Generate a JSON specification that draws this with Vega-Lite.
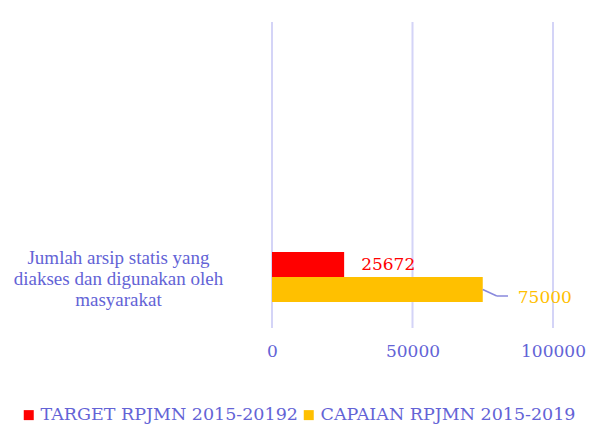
{
  "$schema": "https://vega.github.io/schema/vega-lite/v6.json",
  "width": 281,
  "height": 306,
  "autosize": "none",
  "padding": {"left": 272, "top": 22, "right": 48, "bottom": 97},
  "background": "white",
  "config": {"font": "Liberation Serif", "view": {"stroke": null}},
  "data": {
    "values": [
      {"indikator": "Jumlah arsip statis yang diakses dan digunakan oleh masyarakat", "series": "TARGET RPJMN 2015-20192", "value": 25672},
      {"indikator": "Jumlah arsip statis yang diakses dan digunakan oleh masyarakat", "series": "CAPAIAN RPJMN 2015-2019", "value": 75000}
    ]
  },
  "layer": [
    {
      "data": {"values": [{"tick": 0}, {"tick": 50000}, {"tick": 100000}]},
      "mark": {"type": "rule", "color": "#D4D4F7", "strokeWidth": 2},
      "encoding": {
        "x": {"field": "tick", "type": "quantitative"}
      }
    },
    {
      "mark": {"type": "bar"},
      "encoding": {
        "y": {
          "field": "indikator",
          "type": "nominal",
          "title": null,
          "scale": {"range": [230, 280], "paddingInner": 0, "paddingOuter": 0},
          "axis": {
            "domain": false,
            "ticks": false,
            "grid": false,
            "labelAlign": "center",
            "labelBaseline": "middle",
            "labelPadding": 154,
            "labelOffset": -19,
            "labelFontSize": 19,
            "labelColor": "#6363D6",
            "labelLineHeight": 21,
            "labelLimit": 0,
            "labelExpr": "['Jumlah arsip statis yang', 'diakses dan digunakan oleh', 'masyarakat']"
          }
        },
        "yOffset": {
          "field": "series",
          "type": "nominal",
          "scale": {"domain": ["TARGET RPJMN 2015-20192", "CAPAIAN RPJMN 2015-2019"], "paddingInner": 0, "paddingOuter": 0}
        },
        "x": {
          "field": "value",
          "type": "quantitative",
          "title": null,
          "scale": {"domain": [0, 100000], "nice": false},
          "axis": {
            "values": [0, 50000, 100000],
            "format": "d",
            "grid": false,
            "domain": false,
            "ticks": false,
            "labelFont": "DejaVu Serif",
            "labelFontSize": 17,
            "labelColor": "#6363D6",
            "labelPadding": 15,
            "labelFlush": false
          }
        },
        "color": {
          "field": "series",
          "type": "nominal",
          "scale": {"domain": ["TARGET RPJMN 2015-20192", "CAPAIAN RPJMN 2015-2019"], "range": ["#FF0000", "#FFC000"]},
          "legend": {
            "orient": "none",
            "legendX": -252,
            "legendY": 384,
            "direction": "horizontal",
            "title": null,
            "symbolType": "square",
            "symbolSize": 100,
            "symbolStrokeWidth": 0,
            "labelFont": "DejaVu Serif",
            "labelFontSize": 17.5,
            "labelColor": "#6363D6",
            "labelOffset": 3,
            "columnPadding": 2,
            "labelLimit": 0
          }
        }
      }
    },
    {
      "transform": [{"filter": "datum.series === 'CAPAIAN RPJMN 2015-2019'"}],
      "mark": {"type": "rule", "color": "#8888DD", "strokeWidth": 1.5, "y2Offset": 19},
      "encoding": {
        "x": {"field": "value", "type": "quantitative"},
        "x2": {"datum": 80000},
        "y": {"field": "indikator", "type": "nominal"},
        "yOffset": {"field": "series", "type": "nominal"},
        "y2": {"datum": "Jumlah arsip statis yang diakses dan digunakan oleh masyarakat"}
      }
    },
    {
      "transform": [{"filter": "datum.series === 'CAPAIAN RPJMN 2015-2019'"}],
      "mark": {"type": "rule", "color": "#8888DD", "strokeWidth": 1.5, "yOffset": 19},
      "encoding": {
        "x": {"datum": 80000},
        "x2": {"datum": 84000},
        "y": {"datum": "Jumlah arsip statis yang diakses dan digunakan oleh masyarakat"}
      }
    },
    {
      "transform": [{"filter": "datum.series === 'TARGET RPJMN 2015-20192'"}],
      "mark": {"type": "text", "align": "left", "baseline": "middle", "dx": 17, "fontSize": 17, "font": "DejaVu Serif", "color": "#FF0000"},
      "encoding": {
        "x": {"field": "value", "type": "quantitative"},
        "y": {"field": "indikator", "type": "nominal"},
        "yOffset": {"field": "series", "type": "nominal"},
        "text": {"field": "value", "type": "quantitative", "format": "d"}
      }
    },
    {
      "transform": [{"filter": "datum.series === 'CAPAIAN RPJMN 2015-2019'"}],
      "mark": {"type": "text", "align": "left", "baseline": "middle", "dx": 35, "dy": 8, "fontSize": 17, "font": "DejaVu Serif", "color": "#FFC000"},
      "encoding": {
        "x": {"field": "value", "type": "quantitative"},
        "y": {"field": "indikator", "type": "nominal"},
        "yOffset": {"field": "series", "type": "nominal"},
        "text": {"field": "value", "type": "quantitative", "format": "d"}
      }
    }
  ]
}
